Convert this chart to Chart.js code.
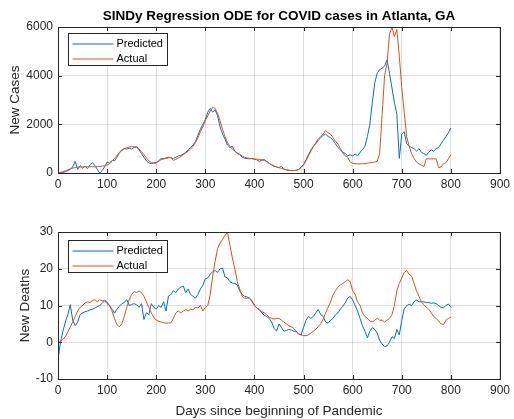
<!DOCTYPE html>
<html>
<head>
<meta charset="utf-8">
<title>SINDy Regression ODE for COVID cases in Atlanta, GA</title>
<script src="https://cdn.jsdelivr.net/npm/chart.js@4.4.1/dist/chart.umd.min.js"></script>
<style>
  html, body { margin: 0; padding: 0; background: #fff; }
  .fig { position: relative; width: 514px; height: 419px; }
  .panel { position: absolute; left: 0; width: 514px; }
  #topPanel { top: 0; height: 200px; }
  #bottomPanel { top: 200px; height: 219px; }
</style>
</head>
<body>
<div class="fig">
  <div class="panel" id="topPanel"><canvas id="casesChart"></canvas></div>
  <div class="panel" id="bottomPanel"><canvas id="deathsChart"></canvas></div>
</div>
<script>
// days since beginning of pandemic (sampled every 5 days)
const days = [
  0, 5, 10, 15, 20, 25, 30, 35, 40, 45,
  50, 55, 60, 65, 70, 75, 80, 85, 90, 95,
  100, 105, 110, 115, 120, 125, 130, 135, 140, 145,
  150, 155, 160, 165, 170, 175, 180, 185, 190, 195,
  200, 205, 210, 215, 220, 225, 230, 235, 240, 245,
  250, 255, 260, 265, 270, 275, 280, 285, 290, 295,
  300, 305, 310, 315, 320, 325, 330, 335, 340, 345,
  350, 355, 360, 365, 370, 375, 380, 385, 390, 395,
  400, 405, 410, 415, 420, 425, 430, 435, 440, 445,
  450, 455, 460, 465, 470, 475, 480, 485, 490, 495,
  500, 505, 510, 515, 520, 525, 530, 535, 540, 545,
  550, 555, 560, 565, 570, 575, 580, 585, 590, 595,
  600, 605, 610, 615, 620, 625, 630, 635, 640, 645,
  650, 655, 660, 665, 670, 675, 680, 685, 690, 695,
  700, 705, 710, 715, 720, 725, 730, 735, 740, 745,
  750, 755, 760, 765, 770, 775, 780, 785, 790, 795,
  800
];

const casesPredicted = [
  0, 30, 0, 60, 100, 150, 250, 480, 150, 300,
  200, 280, 180, 330, 430, 300, 150, 0, 100, 250,
  450, 400, 520, 500, 650, 850, 950, 1000, 980, 1020,
  980, 1050, 1100, 950, 800, 650, 500, 420, 380, 420,
  420, 500, 600, 580, 620, 650, 620, 600, 640, 700,
  720, 780, 850, 950, 1050, 1150, 1300, 1550, 1800, 2000,
  2200, 2500, 2650, 2500, 2600, 2350, 1900, 1600, 1400, 1150,
  1050, 1100, 900, 800, 750, 650, 600, 600, 580, 600,
  560, 540, 480, 530, 550, 480, 400, 330, 270, 250,
  220, 280, 150, 130, 110, 100, 100, 110, 150, 250,
  350, 550, 750, 950, 1100, 1200, 1350, 1450, 1550, 1600,
  1500, 1450, 1350, 1200, 1050, 950, 850, 800, 700, 750,
  700, 780, 700, 850, 950, 1100, 1500, 2000, 2900, 3700,
  4100, 4250, 4300, 4400, 4650, 4100, 3500, 2900, 2400, 600,
  1600, 1700, 1200, 1100, 1050, 1000, 900, 1000, 850, 800,
  720, 850, 950, 900, 1000, 1050, 1200, 1350, 1500, 1650,
  1850
];

const casesActual = [
  0, 20, 50, 90, 130, 170, 200, 220, 240, 250,
  250, 255, 260, 260, 255, 260, 260, 270, 280, 300,
  330, 380, 480, 600, 720, 830, 920, 1000, 1040, 1070,
  1080, 1070, 1050, 980, 880, 750, 620, 500, 430, 400,
  420, 480, 550, 580, 600, 620, 640, 520, 560, 620,
  680, 750, 820, 900, 980, 1100, 1250, 1450, 1700, 1900,
  2150, 2350, 2550, 2700, 2650, 2450, 2150, 1800, 1500, 1250,
  1100, 980, 900, 820, 770, 700, 650, 620, 600, 590,
  580, 570, 560, 540, 520, 470, 400, 340, 290, 250,
  220, 190, 160, 130, 110, 100, 100, 110, 140, 220,
  330, 500, 700, 900, 1080, 1250, 1400, 1500, 1600, 1750,
  1650, 1600, 1450, 1300, 1200, 1000, 820, 700, 650, 450,
  400, 380, 380, 370, 390, 380, 400, 420, 430, 450,
  480, 800, 2400, 4000, 4500, 5700, 6000, 5600, 5900, 4800,
  3500, 2500, 1500, 1100, 800, 600, 450, 380, 320, 270,
  580, 580, 580, 580, 580, 220, 250, 380, 420, 580,
  750
];

const deathsPredicted = [
  -4.8, 0, 3, 5.5, 7.5, 10.2, 6, 4.5, 5.5, 7.5,
  8, 8.3, 8.5, 8.8, 9, 9.3, 9.7, 10, 10.6, 11.3,
  10.5, 10, 9, 7.9, 9, 9.8, 10.5, 10.8, 11.6, 10,
  10.3, 10.5, 10.2, 9.5, 10.5, 6.2, 8, 7.5, 10.5, 9.5,
  9, 10, 9.5, 11, 8.5, 12.6, 13, 14, 13.5, 14.5,
  15, 15.3, 13.5, 14.5, 13, 12.5, 12, 13, 14.5, 15.5,
  17.3, 17.5, 18.5, 19.2, 19.5, 19, 20, 20.2, 17.8, 17.5,
  16.5, 16.1, 16, 15.6, 14, 13, 12.5, 12.3, 12, 11.3,
  10, 9.3, 8.8, 8, 7.3, 7, 6.5, 5.5, 3.8, 3,
  5, 4, 3, 3.2, 3.5, 3.3, 3, 3, 2.2, 2,
  4, 6, 7, 6.5, 7, 8, 8.9, 7.5, 7, 5.5,
  5.2, 6, 6.5, 7.5, 8, 9, 9.8, 10.8, 12, 12.5,
  11.5, 10, 8.5, 6.5, 4.5, 3, 1.2, 3, 4, 3.5,
  2.5, 0.5, -0.5, -1.2, -1, 0, 1.5, 1, 3.5, 2,
  6, 9, 10, 10.3, 10, 11, 11.5, 11, 11, 11,
  10.8, 10.8, 10.6, 10.7, 10.5, 10, 9.5, 9.4, 10, 10.4,
  9.5
];

const deathsActual = [
  0, 0.2, 0.8, 1.5, 2.8, 4.2, 5.5, 7, 8.5, 9.5,
  10, 10.7, 11, 10.8, 11.3, 11.6, 11, 11.6, 11.2, 11.5,
  11, 10, 8.5, 6.5, 4.8, 4.2, 5, 7, 9.5, 11.5,
  13, 13.8, 13.5, 14, 13.5, 12.5, 11, 9.5, 8, 6.8,
  6, 5.7, 5.5, 5.3, 5.2, 5.2, 5.3, 6.5, 8, 8.5,
  8, 8.5, 8.9, 8.5, 9, 8.8, 9.5, 9.3, 10, 8.5,
  9.5, 10, 13, 18, 22, 25.5, 27, 28, 29, 30,
  26.5, 23, 20, 16.5, 14.5, 12.5, 12, 12, 12, 11,
  10, 9.3, 9, 8.3, 8, 7.5, 6.8, 6.5, 6.3, 6.5,
  6.5, 6, 5.5, 5, 4.5, 4.2, 3.8, 3, 2.3, 2,
  1.8, 1.8, 2, 2.5, 3, 3.5, 4.3, 5, 6.3, 8,
  9.5, 11, 12.9, 14, 15, 15.6, 16, 16.5, 17, 16.5,
  14, 13, 11, 10, 8, 7, 6.5, 5.8, 5.5, 6,
  6.5, 6, 6, 5.5, 6, 6.5, 7.5, 10, 14, 16,
  17.5, 19, 19.5, 18.5, 18, 16, 14, 12.5, 11, 10.2,
  9.5, 9, 8, 7, 6.5, 5.8, 5, 4.8, 6, 6.5,
  6.8
];

const xTicks = [0, 100, 200, 300, 400, 500, 600, 700, 800, 900];
const casesTicks = [0, 2000, 4000, 6000];
const deathsTicks = [-10, 0, 10, 20, 30];

const BLUE = "#0072BD";
const ORANGE = "#D95319";
const AXIS = "#262626";
const GRID = "rgba(38, 38, 38, 0.15)";
const FONT = '"Liberation Sans", Arial, Helvetica, sans-serif';

Chart.defaults.font.family = FONT;
Chart.defaults.color = AXIS;

const toPoints = (values) => values.map((v, i) => ({ x: days[i], y: v }));

// box, inward ticks and boxed legend like a MATLAB axes
const matlabAxes = {
  id: "matlabAxes",
  afterDatasetsDraw(chart, args, opts) {
    const { ctx, chartArea: a, scales } = chart;
    const tick = 4;
    ctx.save();
    ctx.strokeStyle = AXIS;
    ctx.lineWidth = 1;
    ctx.beginPath();
    scales.x.ticks.forEach((t) => {
      const px = Math.round(scales.x.getPixelForValue(t.value)) + 0.5;
      ctx.moveTo(px, a.bottom); ctx.lineTo(px, a.bottom - tick);
      ctx.moveTo(px, a.top); ctx.lineTo(px, a.top + tick);
    });
    scales.y.ticks.forEach((t) => {
      const py = Math.round(scales.y.getPixelForValue(t.value)) + 0.5;
      ctx.moveTo(a.left, py); ctx.lineTo(a.left + tick, py);
      ctx.moveTo(a.right, py); ctx.lineTo(a.right - tick, py);
    });
    ctx.stroke();
    ctx.strokeRect(Math.round(a.left) + 0.5, Math.round(a.top) + 0.5, Math.round(a.width), Math.round(a.height));

    // legend
    const lx = Math.round(a.left) + 10.5;
    const ly = Math.round(a.top) + opts.legendTop + 0.5;
    ctx.fillStyle = "#fff";
    ctx.fillRect(lx, ly, 99, 32);
    ctx.strokeRect(lx, ly, 99, 32);
    ctx.font = "11px " + FONT;
    ctx.textBaseline = "middle";
    chart.data.datasets.forEach((ds, i) => {
      const ry = ly + 10.5 + i * 15;
      ctx.strokeStyle = ds.borderColor;
      ctx.beginPath();
      ctx.moveTo(lx + 4, ry);
      ctx.lineTo(lx + 45, ry);
      ctx.stroke();
      ctx.fillStyle = "#000";
      ctx.fillText(ds.label, lx + 48, ry);
    });
    ctx.restore();
  },
};

function buildChart(id, cfg) {
  return new Chart(document.getElementById(id), {
    type: "line",
    data: {
      datasets: [
        { label: "Predicted", data: toPoints(cfg.predicted), borderColor: BLUE, order: 1 },
        { label: "Actual", data: toPoints(cfg.actual), borderColor: ORANGE, order: 0 },
      ],
    },
    options: {
      responsive: true,
      maintainAspectRatio: false,
      animation: false,
      events: [],
      datasets: { line: { borderWidth: 1, pointRadius: 0, tension: 0, fill: false } },
      layout: { padding: { top: cfg.padTop, right: 11, bottom: 0, left: 0 } },
      plugins: {
        legend: { display: false },
        tooltip: { enabled: false },
        title: {
          display: !!cfg.title,
          text: cfg.title,
          fullSize: false,
          color: "#000",
          font: { size: 13.5, weight: "bold" },
          padding: { top: 8, bottom: 2.8 },
        },
        matlabAxes: { legendTop: cfg.legendTop },
      },
      scales: {
        x: {
          type: "linear",
          min: xTicks[0],
          max: xTicks[xTicks.length - 1],
          afterBuildTicks: (s) => { s.ticks = xTicks.map((v) => ({ value: v })); },
          ticks: { font: { size: 12 }, color: AXIS, padding: 4, maxRotation: 0, callback: (v) => String(v) },
          grid: { color: GRID, drawTicks: false },
          border: { display: false },
          title: {
            display: !!cfg.xTitle,
            text: cfg.xTitle,
            color: AXIS,
            font: { size: 13.5 },
            padding: { top: 0, bottom: 0 },
          },
          afterFit: (s) => { s.height = cfg.xHeight; },
        },
        y: {
          min: cfg.yTicks[0],
          max: cfg.yTicks[cfg.yTicks.length - 1],
          afterBuildTicks: (s) => { s.ticks = cfg.yTicks.map((v) => ({ value: v })); },
          ticks: { font: { size: 12 }, color: AXIS, padding: 5, callback: (v) => String(v) },
          grid: { color: GRID, drawTicks: false },
          border: { display: false },
          title: {
            display: true,
            text: cfg.yTitle,
            color: AXIS,
            font: { size: 13.5 },
            padding: { top: cfg.yTitlePad, bottom: 0 },
          },
          afterFit: (s) => { s.width = 58; },
        },
      },
    },
    plugins: [matlabAxes],
  });
}

buildChart("casesChart", {
  title: "SINDy Regression ODE for COVID cases in Atlanta, GA",
  predicted: casesPredicted,
  actual: casesActual,
  yTicks: casesTicks,
  yTitle: "New Cases",
  yTitlePad: 7,
  padTop: 0,
  xHeight: 27,
  legendTop: 6,
});

buildChart("deathsChart", {
  predicted: deathsPredicted,
  actual: deathsActual,
  yTicks: deathsTicks,
  yTitle: "New Deaths",
  yTitlePad: 17,
  xTitle: "Days since beginning of Pandemic",
  padTop: 32,
  xHeight: 40,
  legendTop: 8,
});
</script>
</body>
</html>
